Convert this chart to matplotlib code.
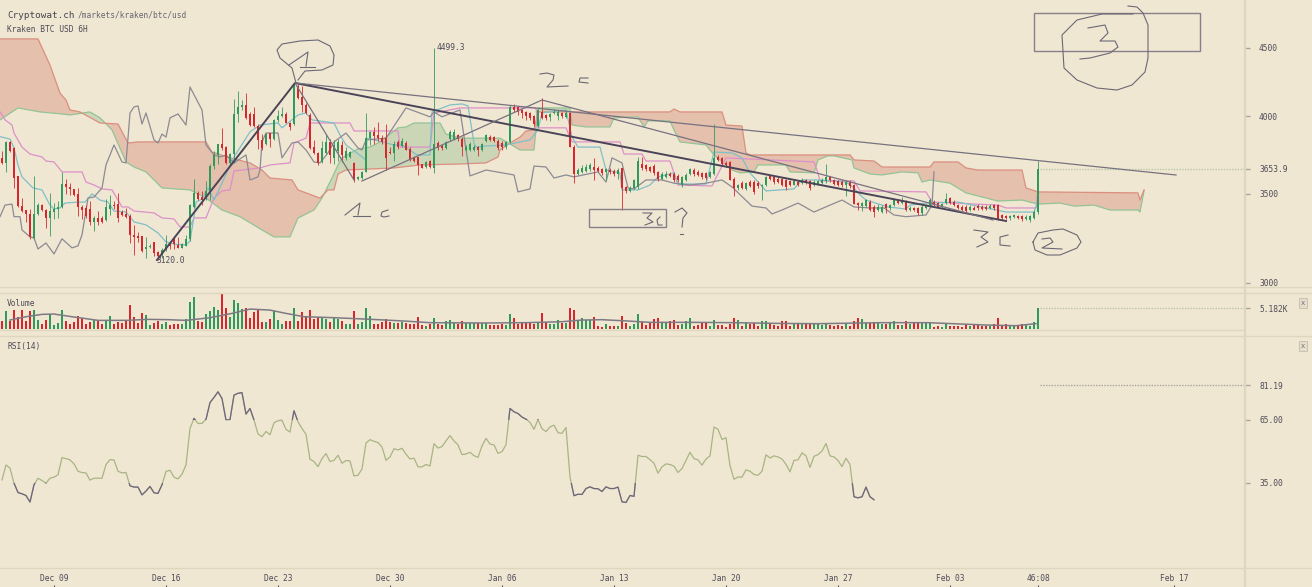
import matplotlib
matplotlib.use("Agg")
import matplotlib.pyplot as plt
import numpy as np
from matplotlib.patches import Rectangle

# candles, 6H bars, bar 0 = Dec 05 18:00
opens = [3720,3690,3826,3787,3606,3426,3400,3376,3240,3376,
         3434,3405,3354,3388,3407,3420,3558,3537,3525,3500,
         3420,3411,3407,3330,3354,3358,3345,3407,3434,3440,
         3392,3376,3368,3259,3255,3255,3182,3191,3218,3167,
         3150,3176,3214,3240,3204,3189,3200,3236,3420,3503,
         3480,3470,3513,3670,3740,3813,3795,3690,3750,4012,
         4066,4075,4012,4012,3935,3839,3812,3883,3845,3974,
         3998,4018,3955,3945,4212,4135,4078,4010,3795,3754,
         3697,3754,3828,3720,3765,3806,3720,3725,3690,3590,
         3597,3635,3850,3890,3875,3855,3850,3758,3755,3825,
         3800,3820,3780,3725,3725,3680,3665,3705,3660,3820,
         3800,3785,3845,3845,3870,3845,3775,3774,3770,3795,
         3770,3830,3860,3860,3835,3820,3795,3828,4066,4060,
         4043,4026,4020,4000,3930,4030,4010,3993,4020,4000,
         4020,3995,4020,3795,3620,3630,3640,3650,3665,3660,
         3650,3630,3645,3640,3620,3655,3538,3518,3535,3538,
         3680,3675,3665,3670,3632,3591,3600,3620,3620,3610,
         3550,3585,3620,3645,3635,3625,3625,3600,3620,3725,
         3720,3690,3695,3592,3534,3562,3530,3570,3570,3562,
         3545,3550,3605,3600,3590,3590,3580,3575,3555,3570,
         3565,3580,3575,3550,3555,3565,3575,3600,3580,3575,
         3570,3550,3570,3550,3443,3425,3425,3450,3420,3402,
         3393,3436,3412,3432,3455,3441,3451,3402,3412,3412,
         3383,3416,3431,3451,3441,3422,3441,3471,3451,3431,
         3422,3422,3402,3416,3425,3422,3422,3416,3431,3431,
         3372,3368,3356,3364,3368,3367,3350,3345,3356,3390]
highs = [3765,3830,3835,3790,3610,3475,3405,3410,3610,3445,
         3440,3410,3505,3445,3455,3630,3590,3565,3530,3535,
         3430,3430,3455,3365,3396,3365,3470,3490,3455,3503,
         3400,3411,3376,3316,3275,3255,3248,3210,3222,3172,
         3185,3260,3225,3250,3248,3215,3260,3440,3590,3515,
         3515,3575,3680,3766,3815,3920,3800,3755,4120,4175,
         4110,4160,4030,4060,3945,3880,3885,3885,3980,4040,
         4060,4030,3960,4235,4225,4215,4090,4020,3840,3760,
         3830,3880,3845,3839,3845,3835,3790,3765,3695,3605,
         3640,4025,3900,3925,3960,3870,3945,3795,3830,3840,
         3850,3835,3790,3735,3730,3685,3705,3710,4499.3,3835,
         3810,3830,3905,3915,3880,3860,3805,3825,3805,3800,
         3820,3880,3870,3865,3845,3830,3835,4075,4085,4070,
         4050,4035,4030,4010,4050,4125,4015,4025,4050,4040,
         4030,4040,4030,3805,3655,3675,3680,3690,3720,3670,
         3655,3660,3655,3650,3655,3660,3545,3545,3592,3730,
         3730,3680,3670,3680,3640,3635,3640,3635,3630,3620,
         3610,3625,3660,3655,3645,3635,3635,3640,3945,3740,
         3730,3700,3700,3600,3560,3575,3570,3580,3580,3575,
         3560,3610,3615,3610,3600,3600,3590,3585,3585,3580,
         3595,3590,3585,3580,3585,3595,3680,3610,3590,3585,
         3580,3580,3580,3560,3450,3450,3470,3460,3430,3440,
         3430,3445,3440,3470,3465,3481,3460,3425,3420,3420,
         3430,3440,3475,3460,3450,3445,3501,3480,3460,3440,
         3430,3430,3430,3425,3435,3430,3430,3435,3440,3440,
         3380,3375,3375,3380,3375,3372,3370,3375,3405,3700]
lows = [3680,3633,3760,3535,3420,3390,3335,3235,3235,3370,
        3395,3297,3255,3350,3355,3415,3500,3490,3485,3365,
        3350,3354,3316,3280,3316,3325,3340,3370,3407,3335,
        3365,3354,3212,3148,3220,3167,3132,3185,3140,3120,
        3130,3170,3180,3180,3185,3185,3195,3225,3415,3460,
        3430,3460,3460,3650,3680,3775,3685,3685,3690,3960,
        4040,3980,3935,3925,3780,3770,3805,3795,3840,3960,
        3995,3950,3905,3940,4120,4030,4015,3780,3745,3675,
        3690,3750,3690,3680,3700,3695,3710,3720,3570,3585,
        3590,3630,3805,3815,3830,3815,3645,3745,3700,3780,
        3790,3770,3705,3695,3615,3655,3660,3660,3625,3770,
        3770,3780,3835,3840,3835,3735,3765,3765,3765,3732,
        3765,3825,3835,3825,3775,3775,3780,3820,4030,4010,
        3990,3976,3970,3935,3925,3980,3975,3965,4015,3976,
        3990,3990,3790,3562,3615,3625,3630,3640,3585,3635,
        3615,3585,3620,3610,3590,3400,3505,3512,3530,3530,
        3648,3640,3632,3615,3575,3585,3595,3600,3570,3570,
        3540,3575,3612,3610,3605,3590,3585,3595,3615,3700,
        3675,3665,3580,3488,3520,3525,3520,3540,3500,3535,
        3460,3545,3580,3560,3565,3545,3520,3545,3550,3545,
        3560,3560,3520,3545,3550,3560,3565,3570,3555,3545,
        3540,3488,3535,3435,3400,3399,3420,3395,3363,3395,
        3385,3385,3405,3425,3440,3435,3395,3395,3395,3375,
        3375,3410,3425,3425,3415,3415,3435,3440,3425,3410,
        3395,3390,3395,3400,3405,3405,3400,3410,3405,3345,
        3345,3350,3345,3358,3350,3340,3345,3335,3350,3380]
closes = [3687,3826,3766,3596,3426,3396,3376,3245,3376,3434,
          3400,3354,3396,3407,3420,3558,3537,3525,3490,3420,
          3405,3366,3330,3354,3335,3330,3420,3430,3426,3354,
          3372,3360,3259,3248,3244,3172,3191,3198,3160,3145,
          3176,3208,3195,3208,3189,3208,3236,3430,3503,3470,
          3460,3513,3670,3740,3813,3787,3690,3750,4012,4066,
          4075,3985,3940,3930,3839,3785,3880,3845,3974,3998,
          4018,3955,3925,4220,4125,4078,4022,3785,3754,3687,
          3785,3828,3743,3806,3828,3740,3765,3758,3583,3600,
          3635,3850,3890,3865,3850,3825,3720,3752,3815,3790,
          3835,3775,3715,3705,3675,3660,3695,3665,3810,3785,
          3785,3825,3890,3890,3845,3795,3795,3815,3795,3774,
          3815,3870,3840,3830,3785,3795,3828,4066,4040,4032,
          4020,4000,3990,3945,4040,3987,3987,4015,4032,4026,
          4000,4020,3795,3620,3645,3655,3665,3675,3645,3640,
          3625,3650,3630,3620,3645,3534,3518,3534,3585,3701,
          3655,3650,3640,3625,3591,3620,3620,3610,3580,3580,
          3600,3615,3650,3620,3615,3600,3595,3630,3720,3710,
          3680,3675,3585,3534,3550,3534,3562,3548,3510,3545,
          3550,3600,3590,3570,3570,3555,3540,3555,3575,3555,
          3585,3565,3535,3570,3575,3585,3600,3580,3560,3555,
          3550,3570,3545,3440,3433,3443,3460,3402,3393,3422,
          3422,3412,3432,3461,3445,3461,3402,3416,3402,3383,
          3422,3428,3461,3431,3422,3436,3465,3445,3431,3416,
          3402,3398,3422,3405,3412,3410,3408,3428,3412,3352,
          3356,3356,3368,3372,3356,3350,3364,3367,3392,3653.9]

volume = [1970,4430,1970,4670,3030,4670,2050,4430,4670,2210,
          1230,2210,3690,980,1390,4590,2050,1230,1800,3200,
          2620,1230,1640,2210,2210,1230,1970,3200,1230,1800,
          1390,2210,5900,3030,1390,4020,3440,980,1560,1970,
          1150,1800,980,1230,1150,1230,2380,6560,7950,2050,
          1800,3610,4510,5490,4670,8610,5080,3030,7130,6480,
          4920,5080,2620,4100,4920,1800,1800,2380,4430,2210,
          1230,1970,1970,5250,2050,4260,3030,4590,2460,2870,
          2620,2460,1800,2620,2460,1970,1150,1230,4430,1150,
          1800,5250,3200,1150,1230,1640,2460,1640,1390,1560,
          1800,1560,1150,1230,2950,980,820,1150,2790,1150,
          980,2050,2300,1390,1150,2050,1390,1390,1390,1560,
          1390,1390,980,980,980,1150,980,3610,2620,1150,
          1560,1640,1390,1150,1640,4020,1640,1150,1150,2210,
          1390,1390,5080,4670,2210,2790,2300,2130,3030,820,
          570,1150,820,660,660,3200,1390,820,1150,3610,
          1640,980,
          1390,2460,2620,1560,1390,2050,2210,980,1230,1970,
          2620,820,980,1640,1390,660,2210,980,980,490,
          1310,2620,2300,820,1390,1150,1480,820,2050,2050,
          1560,980,660,2050,2050,820,1150,1390,1390,1150,
          1560,1150,1150,980,1560,980,660,980,820,1150,
          660,1970,2620,2460,1560,1390,1720,1640,1150,1150,
          1390,1970,980,980,1970,1150,1390,1560,1560,1560,
          1560,570,660,570,1150,660,820,820,570,980,
          660,1150,1150,660,820,820,1150,2620,820,1150,
          820,980,820,1150,1150,820,1640,5182]
vol_ma_bar = [2,6,10,13,17.5,20.5,24,31,36.5,41.5,46,52,57.5,62,67,71,75.5,83,87,94,100.5,107,
              120.5,131,140,145,150,156.5,162,172.5,183,193.5,204,220,231.5,246,253.5,258.5]
vol_ma = [2210,3030,3610,3690,3030,2620,2130,2130,2380,2300,2130,2790,3850,4920,4670,3850,3030,2790,2620,2300,1970,1560,
          1480,1560,1800,2210,2300,1970,1640,1640,1560,1390,1310,1560,1560,980,820,1310]

rsi = [36.4,43.5,42.0,34.9,30.4,29.8,29.0,25.9,34.1,37.2,36.1,34.9,37.2,37.7,38.8,47.0,46.5,45.9,44.0,40.5,
       39.9,39.7,36.3,37.2,37.2,37.2,43.7,46.0,45.9,40.5,39.7,39.9,33.6,33.0,33.0,29.3,31.1,33.3,30.3,30.0,
       34.1,40.4,41.0,37.7,36.9,39.1,43.5,60.8,65.6,63.2,63.2,65.1,73.1,75.5,78.2,75.0,64.8,65.0,76.6,77.5,
       77.8,67.6,70.3,64.8,58.2,56.9,59.4,57.8,63.5,64.5,64.6,60.4,59.1,69.2,64.0,60.8,58.0,46.2,45.1,42.7,
       46.5,48.9,45.1,45.7,48.1,44.3,45.6,45.4,38.3,38.6,41.6,53.9,55.5,54.7,54.1,52.0,45.7,47.3,51.2,50.6,
       51.4,48.6,46.3,46.7,42.6,42.6,43.7,43.0,53.6,51.5,52.2,54.9,
       57.4,54.9,53.0,48.4,48.7,49.5,47.9,47.1,52.5,56.1,53.4,53.0,49.0,49.8,53.1,70.3,68.7,67.9,66.2,65.2,
       63.7,60.4,65.0,60.7,59.3,61.5,62.4,58.8,58.5,61.3,37.7,28.9,29.6,29.5,32.3,33.1,32.3,32.2,30.9,33.1,
       32.3,32.3,33.0,26.0,25.7,29.0,28.6,48.1,47.5,47.5,46.0,44.3,39.6,42.6,44.0,43.7,42.9,39.9,41.8,45.6,
       49.5,46.5,45.9,43.4,46.3,47.8,61.5,60.4,55.6,56.4,43.2,36.7,37.8,37.7,41.2,40.5,39.0,38.6,40.5,48.3,
       46.8,47.8,47.3,46.3,43.8,40.2,45.7,45.9,49.2,47.8,42.3,47.6,48.4,50.1,53.7,47.8,47.3,45.6,42.7,46.7,
       43.7,28.4,27.9,28.4,33.0,28.4,27.0]

# ichimoku, vertices as (bar, price)
span_a_bar = [-0.5,4,9.5,15,17,22,24.5,27.5,31,33,36,40,47,51,55,59.5,65,68,72,74,78,80,82.5,84,85,89,92,94.5,99,101,103,
              104.5,109.5,111,114.5,124.5,127,129.5,133,134,142,142.5,146,152,153,159,160.5,161.5,167,168,169.5,176,178,
              182.5,184.5,188,189,196,197,203,204,206.5,208,212.5,213,217,220,225,229,230,232,237,241,249,255,259,264.5,
              268,273,277,284,284.5,285.5]
span_a = [3974,4057,4029,4015,4008,4029,3988,3906,3696,3664,3633,3534,3522,3473,3402,3363,3287,3248,3248,3355,3402,3473,3595,
          3677,3722,3780,3792,3826,3920,3926,3953,3953,3953,3878,3851,3851,3813,3773,3773,4057,4057,3939,3926,3926,3988,3995,
          3926,3967,3967,3906,3826,3806,3741,3645,3627,3633,3677,3677,3633,3627,3709,3735,3735,3709,3658,3620,3614,3633,3627,
          3570,3583,3563,3504,3455,3461,3437,3443,3425,3431,3402,3402,3390,3516]
span_b_bar = [-0.5,9,12,14.5,16,17,19.5,24.5,29,31.5,34,51,52.5,57,62,65,67,72.5,74,79.5,81.5,83,84,86,98,104.5,114.5,121,124,
              124.5,127,129.5,131,133,134,142,167,168,169.5,180,181,185,186,187,212,213,218,220,232,233,239,241,244,255,256,
              259,284,284.5,285.5]
span_b = [4570,4570,4368,4162,4113,4043,4029,3953,3946,3819,3826,3826,3760,3722,3690,3645,3595,3583,3522,3473,3522,3522,3620,
          3645,3658,3677,3683,3690,3728,3773,3819,3858,3899,3906,4029,4029,4029,4050,4029,4029,3939,3932,3754,3741,3741,3709,
          3702,3664,3664,3696,3696,3658,3645,3645,3534,3510,3504,3461,3522]
kijun_bar = [-0.5,0.75,2.5,3,5,7,10,11,13,15,20,21,23,25,27.5,29,30,31.5,33,38,40,43,44.5,47,48,51,53,55,57,58,64.5,67,72,73,76,
             77,87,88,99,99.5,107,108,114.5,126.5,133.5,134,141,142.5,154.5,155.5,160,161,167,169,177.5,181,203,204,204.5,
             213,214.5,231,232.5,249,251,258.5,259]
kijun = [4029,3974,3939,3885,3792,3747,3728,3702,3696,3633,3633,3570,3552,3528,3522,3461,3420,3420,3396,3385,3356,3350,3304,3304,
         3356,3356,3473,3516,3522,3639,3658,3677,3690,3819,3851,3953,3953,3899,3899,3792,3792,4022,4057,4057,4057,3920,3920,
         3826,3826,3747,3747,3702,3702,3552,3546,3722,3696,3627,3577,3577,3516,3510,3449,3431,3414,3414,3522]
tenkan_bar = [-0.5,2,3,4,5,7.75,10,12,13,14.5,15.75,19,20.75,22.5,24.5,26.5,28,31,33,36,39,41,43,46,47,48,48.5,50,51.5,53,55,58,
              62,64.5,69,70,74,76,77.5,83,84.5,86,87.75,91,91.25,98,100,103.75,107,107.5,112,115,116.5,118,118.5,121,126,132,
              134,135,141,142.5,144,149.5,151,154.5,155,159,162,164,168,169,176,178,182.5,185,187,191,198,200,204.5,211,213,
              214.5,216,221.5,226,227,231,239,245,251,258,259]
tenkan = [3861,3845,3786,3677,3602,3534,3522,3431,3408,3414,3443,3449,3449,3498,3461,3449,3396,3390,3333,3316,3270,3220,3208,3203,
          3225,3363,3449,3467,3534,3461,3563,3728,3893,3939,3953,3920,4008,4022,3974,3953,3872,3806,3773,3709,3851,3806,3806,
          3741,3741,4029,4078,4085,4071,3819,3792,3799,3806,3839,3906,4022,4043,3858,3792,3792,3645,3627,3522,3522,3552,3602,
          3627,3558,3558,3760,3754,3722,3627,3516,3528,3583,3583,3570,3534,3492,3461,3420,3408,3431,3443,3449,3420,3390,3390,3449]
chikou_bar = [-0.5,0.75,2.5,3,4.5,5,7,8,9,11,13,15,17.5,19,20,21.5,23,25,26,28,30,31,32,33,34,35,36,38,39,40,41,42,44,46,47,50,
              51,53,54.5,56,58,61,62,64,64.5,65,66,69,70,72.5,74,76,78,79.5,81.5,83,86,89,90,91,96,101,107,108,110,114.5,117,
              121,128,129,132,133,136,138,141,143,149,151,152.5,155,156.5,158,161,165,168,172,176,180,182.5,187.5,191,192.5,
              195,199,203,207,210,213,217,220.5,223,226,231,232.5,233]
chikou = [3363,3431,3437,3363,3363,3287,3248,3242,3181,3214,3154,3237,3187,3198,3259,3473,3479,3534,3677,3806,3696,3690,4022,4064,
          4071,3946,4022,3839,3819,3878,3858,3988,4015,3939,4206,4043,3806,3741,3728,3741,3690,3741,3583,3602,3645,3826,3885,
          3885,3722,3819,3826,3773,3696,3690,3754,3826,3885,3786,3773,3839,3851,4057,3995,4029,3995,4043,3608,3645,3614,3510,
          3528,3670,3664,3595,3614,3602,3633,3570,3722,3690,3534,3528,3583,3583,3563,3552,3563,3583,3540,3425,3414,3379,3402,
          3443,3390,3431,3461,3420,3414,3414,3373,3363,3373,3431,3633]

price_ticks = [3000, 3500, 4000, 4500]
last_price = 3653.9
rsi_ticks = [35, 65, 81.19]
rsi_tick_labels = ["35.00", "65.00", "81.19"]
date_bars = [13, 41, 69, 97, 125, 153, 181, 209, 237, 259, 293]
date_labels = ["Dec 09", "Dec 16", "Dec 23", "Dec 30", "Jan 06", "Jan 13", "Jan 20", "Jan 27", "Feb 03", "46:08", "Feb 17"]

# hand drawn stuff, screen pixels
trend_heavy = [(157, 260), (295, 83), (1006, 221)]
trend_thin = [[(296, 83), (1176, 175)], [(295, 83), (354, 180)], [(362, 181), (542, 100), (993, 220)]]
boxes = [(589, 209, 77, 18), (1034, 13, 166, 38)]
sketches = [
    [(296, 83), (292, 68), (280, 58), (277, 50), (282, 44), (300, 41), (318, 40), (330, 46), (334, 55), (333, 65), (322, 70), (305, 71), (298, 80)],
    [(289, 65), (308, 52), (306, 66)], [(300, 67), (315, 67)],
    [(345, 215), (360, 203), (358, 215)], [(353, 216), (370, 216)],
    [(388, 210), (382, 212), (381, 216), (384, 217), (389, 216)],
    [(540, 74), (547, 73), (554, 75), (553, 80), (547, 87), (568, 86)],
    [(588, 78), (580, 78), (579, 82), (588, 83)],
    [(643, 213), (652, 213), (647, 218), (653, 222), (645, 225)],
    [(660, 217), (657, 220), (658, 225), (662, 225)],
    [(675, 212), (682, 208), (687, 213), (683, 218), (682, 227)], [(680, 234), (683, 234)],
    [(974, 230), (988, 232), (981, 237), (988, 242), (977, 247)],
    [(1008, 235), (1000, 237), (1000, 245), (1010, 246)],
    [(1033, 242), (1038, 233), (1053, 230), (1063, 229), (1077, 235), (1081, 242), (1077, 248), (1060, 255), (1047, 255), (1035, 250), (1033, 242)],
    [(1042, 239), (1050, 238), (1053, 242), (1042, 248), (1062, 249)],
    [(1128, 6), (1137, 7), (1143, 13), (1148, 25), (1148, 58), (1145, 72), (1132, 85), (1117, 90), (1097, 88), (1077, 80), (1064, 68), (1062, 35), (1077, 20), (1102, 14), (1133, 14)],
    [(1088, 28), (1105, 25), (1108, 33), (1100, 41), (1115, 41), (1118, 47), (1110, 53), (1090, 58), (1080, 59)],
]

BG = "#f0e7d3"
RULE = "#dfd6c0"
INK = "#4d4a57"
GREEN = "#2f9a5b"
RED = "#d8262e"
MONO = "DejaVu Sans Mono"
W, H = 1312, 587

plt.rcParams["font.family"] = MONO
plt.rcParams["font.size"] = 5.7

fig = plt.figure(figsize=(W / 100, H / 100), dpi=100, facecolor=BG)


def panel(top, bottom):
    ax = fig.add_axes([0, 1 - bottom / H, 1245 / W, (bottom - top) / H], facecolor="none")
    for s in ax.spines.values():
        s.set_visible(False)
    ax.set_xlim(-0.5, 310.75)
    ax.set_xticks([])
    ax.yaxis.tick_right()
    ax.tick_params(axis="y", length=3.6, width=1, color="#aaa599", pad=6.5, labelcolor=INK, labelsize=5.7)
    return ax


bars = np.arange(len(closes))
o, h, l, c = map(np.array, (opens, highs, lows, closes))
up = c >= o
candle_colors = np.where(up, GREEN, RED)

# price panel
ax = panel(0, 287)
ax.set_yscale("log")
ax.set_ylim(2979, 4887)

grid = np.arange(-0.5, 286, 0.25)
a = np.interp(grid, span_a_bar, span_a)
b = np.interp(grid, span_b_bar, span_b)
ax.fill_between(grid, a, b, where=b >= a, color="#e4c0ad", lw=0, interpolate=True, zorder=1)
ax.fill_between(grid, a, b, where=a >= b, color="#cbd6b6", lw=0, interpolate=True, zorder=1)
ax.plot(span_a_bar, span_a, color="#93c495", lw=0.9, zorder=2)
ax.plot(span_b_bar, span_b, color="#da8f7f", lw=0.9, zorder=2)
ax.plot(kijun_bar, kijun, color="#dd90c8", lw=0.9, zorder=3)
ax.plot(tenkan_bar, tenkan, color="#80bfc6", lw=0.9, zorder=3)
ax.plot(chikou_bar, chikou, color="#8c8a93", lw=0.9, zorder=3)

ax.vlines(bars, l, h, colors=candle_colors, lw=0.7, alpha=0.85, zorder=4)
ax.bar(bars, np.abs(c - o), bottom=np.minimum(o, c), width=0.66, color=candle_colors, lw=0, zorder=5)
ax.hlines(last_price, 259.5, 310.75, color="#b5c8a8", lw=1, linestyles=(0, (1, 1)), zorder=3)

ax.set_yticks(price_ticks + [last_price])
ax.set_yticklabels([str(p) for p in price_ticks] + ["3653.9"])
ax.minorticks_off()

ax.annotate("4499.3", (108, 4499.3), xytext=(2, 0), textcoords="offset points", va="center", color=INK)
ax.annotate("3120.0", (39, 3120), xytext=(-1, 0), textcoords="offset points", va="center", color=INK)

# volume panel
ax_vol = panel(293, 329)
ax_vol.set_ylim(0, 8885)
ax_vol.bar(bars, volume, width=0.66, color=candle_colors, lw=0, zorder=2)
ax_vol.plot(vol_ma_bar, vol_ma, color="#7d7a84", lw=1.1, zorder=3)
ax_vol.hlines(volume[-1], 259.5, 310.75, color="#b5c8a8", lw=1, linestyles=(0, (1, 1)))
ax_vol.set_yticks([volume[-1]])
ax_vol.set_yticklabels(["5.182K"])

# rsi panel
ax_rsi = panel(335.5, 567.5)
ax_rsi.set_ylim(-5.15, 104.9)
rsi_bars = np.arange(len(rsi))
ax_rsi.plot(rsi_bars, rsi, color="#a8b484", lw=0.9)
for lo, hi in ((65, 105), (-6, 35)):
    line, = ax_rsi.plot(rsi_bars, rsi, color="#6f6580", lw=0.9)
    line.set_clip_path(Rectangle((-1, lo), 320, hi - lo, transform=ax_rsi.transData))
ax_rsi.hlines(81.19, 259.5, 310.75, color="#aaa599", lw=1, linestyles=(0, (1, 1)))
ax_rsi.set_yticks(rsi_ticks)
ax_rsi.set_yticklabels(rsi_tick_labels)

# date strip
ax_time = panel(567.5, 587)
ax_time.set_yticks([])
ax_time.set_xticks(date_bars)
ax_time.set_xticklabels(date_labels, color=INK, fontsize=5.7)
ax_time.tick_params(axis="x", direction="in", length=1.5, width=0.8, color=INK, pad=-9.5)

# overlay in pixels: rules, titles, drawings
over = fig.add_axes([0, 0, 1, 1], facecolor="none")
over.set_xlim(0, W)
over.set_ylim(H, 0)
over.axis("off")

for y in (287, 293, 329.5, 335.5, 567.5):
    over.plot([0, 1245 if y == 329.5 else W], [y, y], color=RULE, lw=1, zorder=1)
over.plot([1245, 1245], [0, H], color=RULE, lw=1.6, zorder=1)

over.text(7, 15, "Cryptowat.ch", fontsize=6.7, color="#45434e", va="center")
over.text(78, 15, "/markets/kraken/btc/usd", fontsize=5.7, color="#67646f", va="center")
over.text(7, 29, "Kraken BTC USD 6H", fontsize=5.7, color=INK, va="center")
over.text(7, 303, "Volume", fontsize=5.7, color=INK, va="center")
over.text(7, 346, "RSI(14)", fontsize=5.7, color=INK, va="center")
for y in (303, 346):
    over.text(1303, y, "x", fontsize=5, color="#6f6c74", ha="center", va="center",
              bbox=dict(boxstyle="square,pad=0.25", fc="#e6decb", ec="#c8c2b2", lw=0.7))

xs, ys = zip(*trend_heavy)
over.plot(xs, ys, color="#4a4458", lw=1.4, zorder=6)
for seg in trend_thin:
    xs, ys = zip(*seg)
    over.plot(xs, ys, color="#77727f", lw=0.9, zorder=6)
for x, y, w, bh in boxes:
    over.add_patch(Rectangle((x, y), w, bh, fill=False, ec="#85808a", lw=1, zorder=6))
for stroke in sketches:
    xs, ys = zip(*stroke)
    over.plot(xs, ys, color="#6b6874", lw=0.8, zorder=6, solid_joinstyle="round")

fig.savefig("out.png", dpi=100, facecolor=BG)
